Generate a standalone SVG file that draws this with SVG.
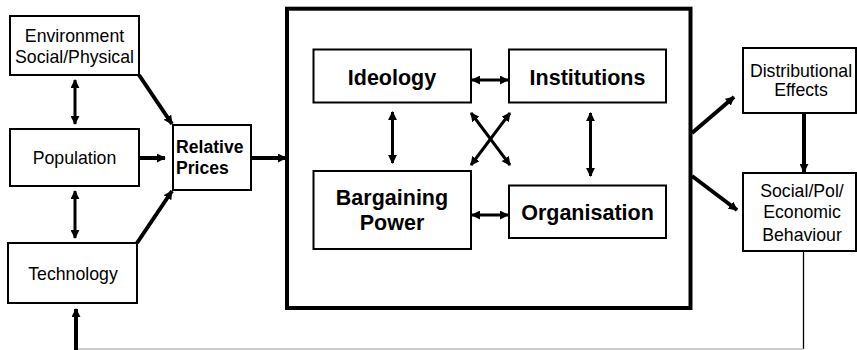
<svg xmlns="http://www.w3.org/2000/svg" width="857" height="350" viewBox="0 0 857 350">
<style>
.box{fill:#fff;stroke:#000;stroke-width:2}
.t{font-family:"Liberation Sans",Arial,sans-serif;font-size:17.7px;fill:#000;text-anchor:middle}
.b{font-family:"Liberation Sans",Arial,sans-serif;font-weight:bold;font-size:21.5px;fill:#000;text-anchor:middle}
.thick{stroke:#000;stroke-width:4;fill:none}
.med{stroke:#000;stroke-width:3;fill:none}
</style>
<defs>
<marker id="ah" viewBox="0 0 10 10" refX="9" refY="5" markerWidth="9" markerHeight="9" markerUnits="userSpaceOnUse" orient="auto-start-reverse">
<path d="M0,0 L10,5 L0,10 z" fill="#000"/>
</marker>
</defs>
<rect x="0" y="0" width="857" height="350" fill="#fff"/>
<g id="connectors">
<line class="med" x1="75" y1="80" x2="75" y2="124" marker-start="url(#ah)" marker-end="url(#ah)"/>
<line class="med" x1="75" y1="191" x2="75" y2="238" marker-start="url(#ah)" marker-end="url(#ah)"/>
<line class="thick" x1="140" y1="158" x2="165" y2="158" marker-end="url(#ah)"/>
<line class="thick" x1="139" y1="75" x2="172" y2="124" marker-end="url(#ah)"/>
<line class="thick" x1="137" y1="243" x2="172" y2="191" marker-end="url(#ah)"/>
<line class="thick" x1="251" y1="158" x2="286" y2="158" marker-end="url(#ah)"/>
<line class="med" x1="472" y1="80" x2="508" y2="80" marker-start="url(#ah)" marker-end="url(#ah)"/>
<line class="med" x1="472" y1="215" x2="508" y2="215" marker-start="url(#ah)" marker-end="url(#ah)"/>
<line class="med" x1="392.5" y1="112" x2="392.5" y2="163" marker-start="url(#ah)" marker-end="url(#ah)"/>
<line class="med" x1="590.5" y1="113" x2="590.5" y2="176" marker-start="url(#ah)" marker-end="url(#ah)"/>
<line class="med" x1="471" y1="165" x2="510" y2="113" marker-start="url(#ah)" marker-end="url(#ah)"/>
<line class="med" x1="471" y1="113" x2="510" y2="165" marker-start="url(#ah)" marker-end="url(#ah)"/>
<line class="thick" x1="692" y1="133" x2="734" y2="97" marker-end="url(#ah)"/>
<line class="thick" x1="692" y1="176" x2="737" y2="210" marker-end="url(#ah)"/>
<line class="thick" x1="804" y1="113" x2="804" y2="172" marker-end="url(#ah)"/>
<line x1="803.5" y1="251" x2="803.5" y2="349" stroke="#000" stroke-width="1.3"/>
<line x1="76" y1="349" x2="803.5" y2="349" stroke="#bdbdbd" stroke-width="1.5"/>
<line class="thick" x1="76" y1="350" x2="76" y2="309" marker-end="url(#ah)"/>
</g>
<g id="environment">
<rect class="box" x="10" y="16" width="129" height="59"/>
<text class="t" x="74.5" y="42">Environment</text>
<text class="t" x="74.5" y="63">Social/Physical</text>
</g>
<g id="population">
<rect class="box" x="10" y="129" width="129" height="57"/>
<text class="t" x="74.5" y="164">Population</text>
</g>
<g id="technology">
<rect class="box" x="8" y="243" width="129" height="60"/>
<text class="t" x="73" y="280">Technology</text>
</g>
<g id="relative-prices">
<rect class="box" x="173" y="125" width="78" height="65"/>
<text class="b" style="font-size:17.6px;text-anchor:start" x="176" y="153">Relative</text>
<text class="b" style="font-size:17.6px;text-anchor:start" x="176" y="174">Prices</text>
</g>
<g id="institutional-framework">
<rect x="287" y="8.7" width="403.5" height="299.3" fill="none" stroke="#000" stroke-width="4"/>
</g>
<g id="ideology">
<rect class="box" x="313.5" y="49.5" width="157.5" height="53"/>
<text class="b" x="392" y="84.5">Ideology</text>
</g>
<g id="institutions">
<rect class="box" x="509" y="49.5" width="157" height="53"/>
<text class="b" x="587.5" y="84.5">Institutions</text>
</g>
<g id="bargaining-power">
<rect class="box" x="313.5" y="171" width="157.5" height="78"/>
<text class="b" x="392" y="205">Bargaining</text>
<text class="b" x="392" y="230">Power</text>
</g>
<g id="organisation">
<rect class="box" x="509" y="185.5" width="157" height="52.5"/>
<text class="b" x="587.5" y="219.5">Organisation</text>
</g>
<g id="distributional-effects">
<rect class="box" x="743" y="48" width="113" height="65"/>
<text class="t" x="801" y="77">Distributional</text>
<text class="t" x="801" y="96">Effects</text>
</g>
<g id="behaviour">
<rect class="box" x="743" y="173" width="113" height="78"/>
<text class="t" x="802" y="197">Social/Pol/</text>
<text class="t" x="802" y="218">Economic</text>
<text class="t" x="802" y="241">Behaviour</text>
</g>
</svg>
